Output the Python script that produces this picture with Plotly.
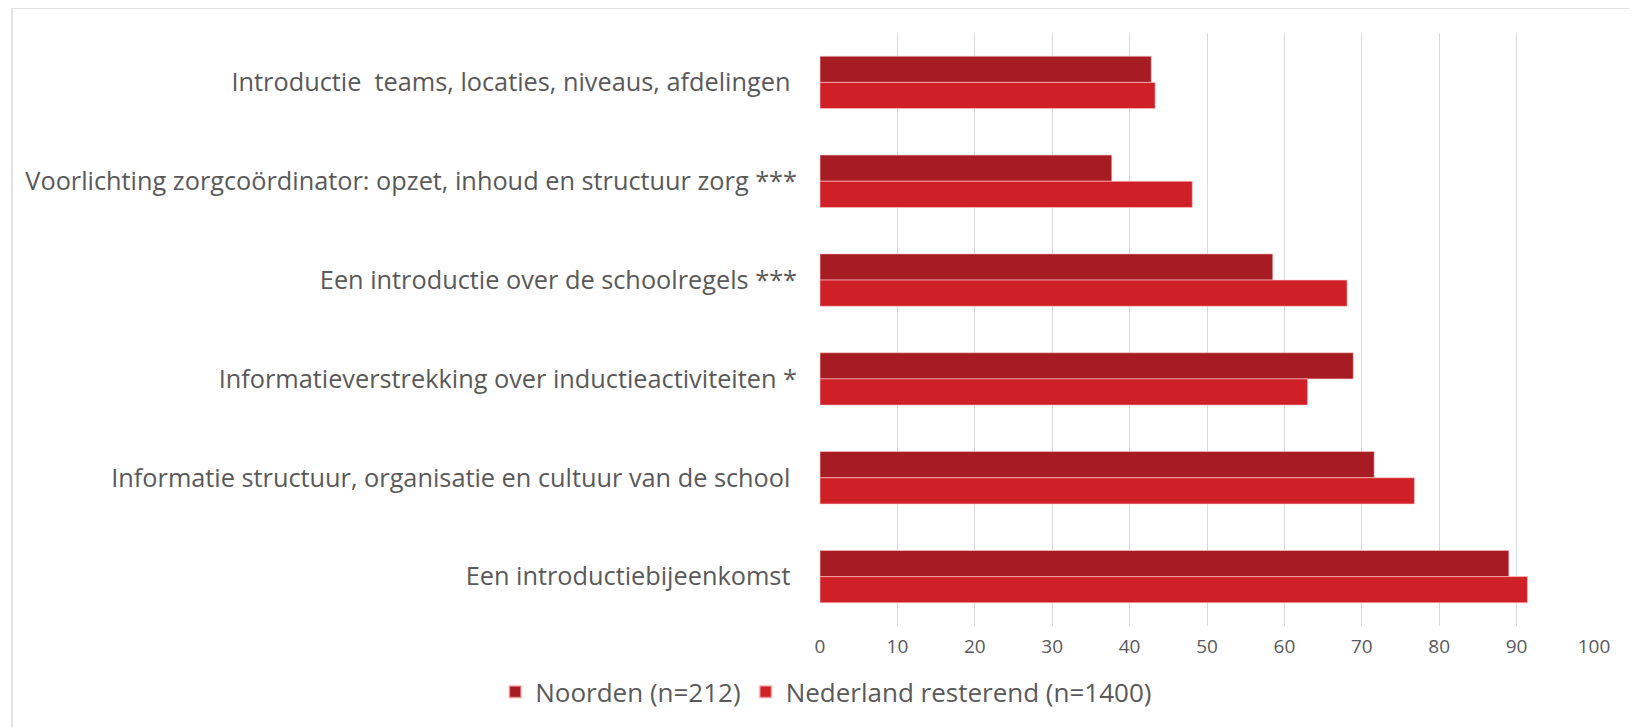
import plotly.graph_objects as go

categories = [
    "Introductie  teams, locaties, niveaus, afdelingen ",
    "Voorlichting zorgcoördinator: opzet, inhoud en structuur zorg ***",
    "Een introductie over de schoolregels ***",
    "Informatieverstrekking over inductieactiviteiten *",
    "Informatie structuur, organisatie en cultuur van de school ",
    "Een introductiebijeenkomst ",
]
noorden = [42.8, 37.7, 58.5, 68.9, 71.6, 89.0]
nederland = [43.3, 48.1, 68.1, 63.0, 76.8, 91.4]
tick_vals = [0, 10, 20, 30, 40, 50, 60, 70, 80, 90, 100]

fig = go.Figure()
fig.add_trace(go.Bar(
    y=categories, x=noorden, orientation="h", name="Noorden (n=212)",
    marker=dict(color="#A61C22", line=dict(color="rgba(255,200,200,0.6)", width=1)),
))
fig.add_trace(go.Bar(
    y=categories, x=nederland, orientation="h", name="Nederland resterend (n=1400)",
    marker=dict(color="#D02027", line=dict(color="rgba(255,200,200,0.6)", width=1)),
))

fig.update_layout(
    width=1637, height=727,
    paper_bgcolor="white", plot_bgcolor="white",
    barmode="group", bargap=0.47, bargroupgap=0,
    margin=dict(l=812, r=51, t=25, b=109),
    font=dict(family="Open Sans", color="#595959"),
    xaxis=dict(
        range=[0, 100], tickvals=tick_vals, showgrid=True, gridcolor="#d9d9d9",
        gridwidth=1, zeroline=False, showline=False, ticks="",
        tickfont=dict(family="Open Sans", size=19, color="#595959"),
        ticklabelstandoff=7,
        fixedrange=True,
    ),
    yaxis=dict(
        autorange="reversed", showgrid=False, showline=False, ticks="",
        tickfont=dict(family="Open Sans", size=25.3, color="#595959"),
        ticklabelstandoff=22,
    ),
    legend=dict(
        orientation="h", x=0.008, xanchor="center", y=-0.111, yanchor="middle",
        font=dict(family="Open Sans", size=26, color="#595959"),
        itemsizing="constant", traceorder="normal",
    ),
    shapes=[dict(
        type="rect", xref="paper", yref="paper",
        x0=-1.044, x1=1.053, y0=-0.2, y1=1.042,
        line=dict(color="#d9d9d9", width=1.5), fillcolor="rgba(0,0,0,0)", layer="below",
    )],
)

fig.write_html("out.html")
